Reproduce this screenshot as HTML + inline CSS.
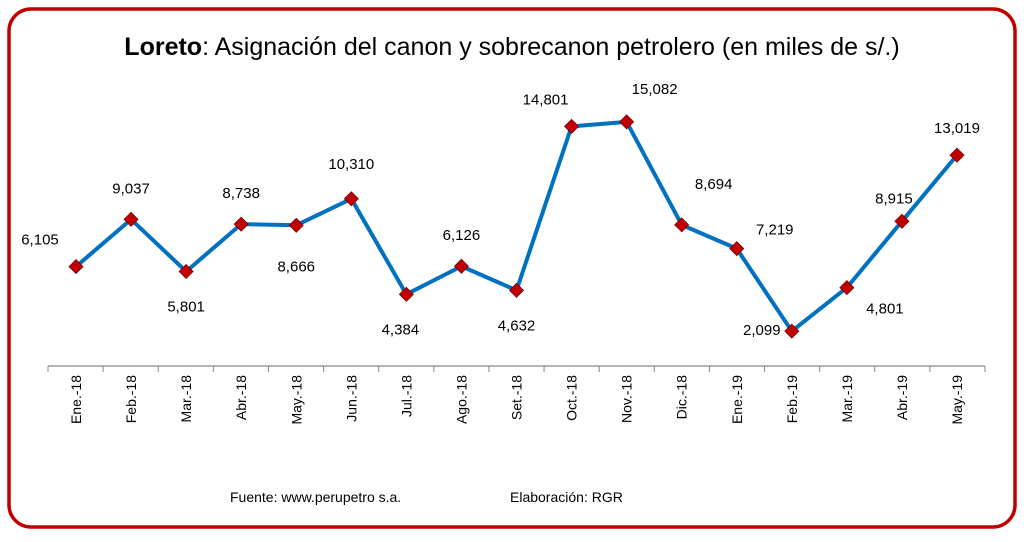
<!DOCTYPE html>
<html><head><meta charset="utf-8"><style>
body{margin:0;background:#fff;}
svg text{font-family:"Liberation Sans",sans-serif;}
</style></head><body>
<svg width="1024" height="537" viewBox="0 0 1024 537">
<rect x="9" y="9" width="1006" height="518" rx="22" fill="#fff" stroke="#c00000" stroke-width="3.5"/>
<text x="512" y="55" text-anchor="middle" font-size="25" fill="#000"><tspan font-weight="bold">Loreto</tspan>: Asignación del canon y sobrecanon petrolero (en miles de s/.)</text>
<g id="plot"></g>
<text x="230" y="502" font-size="14">Fuente: www.perupetro s.a.</text>
<text x="510" y="502" font-size="14">Elaboración: RGR</text>
</svg>
<script>
const categories=["Ene.-18","Feb.-18","Mar.-18","Abr.-18","May.-18","Jun.-18","Jul.-18","Ago.-18","Set.-18","Oct.-18","Nov.-18","Dic.-18","Ene.-19","Feb.-19","Mar.-19","Abr.-19","May.-19"];
const values=[6105,9037,5801,8738,8666,10310,4384,6126,4632,14801,15082,8694,7219,2099,4801,8915,13019];
const valueLabels=["6,105","9,037","5,801","8,738","8,666","10,310","4,384","6,126","4,632","14,801","15,082","8,694","7,219","2,099","4,801","8,915","13,019"];
const NS="http://www.w3.org/2000/svg";
const g=document.getElementById('plot');
const x0=76,step=(957-76)/16,left=48,right=985,base=365;
const xs=i=>x0+i*step;
const ys=v=>base-v*0.01612;
const lblOff=[[-36,-22],[0,-26],[0,40],[0,-26],[0,46],[0,-30],[-6,40],[0,-26],[0,40],[-26,-22],[28,-28],[32,-36],[38,-14],[-30,4],[38,26],[-8,-18],[0,-22]];
function mk(t,a){const e=document.createElementNS(NS,t);for(const k in a)e.setAttribute(k,a[k]);g.appendChild(e);return e;}
let ax=mk('line',{x1:left,x2:right,y1:base+1,y2:base+1,stroke:'#888','stroke-width':1.2});


for(let i=0;i<=categories.length;i++){const tx=left+i*(right-left)/categories.length;
const t=mk('line',{x1:tx,x2:tx,y1:base+1,y2:base+7,stroke:'#888'});

}
categories.forEach((c,i)=>{const t=mk('text',{x:0,y:0,'font-size':14,'text-anchor':'end',transform:`translate(${xs(i)+5},${base+10}) rotate(-90)`});t.textContent=c;

});
const line=mk('polyline',{points:values.map((v,i)=>xs(i)+','+ys(v)).join(' '),fill:'none',stroke:'#0070c0','stroke-width':4,'stroke-linejoin':'round'});


values.forEach((v,i)=>{const x=xs(i),y=ys(v);
const m=mk('polygon',{points:`${x},${y-7} ${x+7},${y} ${x},${y+7} ${x-7},${y}`,fill:'#c00000',stroke:'#7f0000','stroke-width':0.8});


const t=mk('text',{x:x+lblOff[i][0],y:y+lblOff[i][1],'font-size':15,'text-anchor':'middle'});t.textContent=valueLabels[i];

});
</script>
</body></html>
